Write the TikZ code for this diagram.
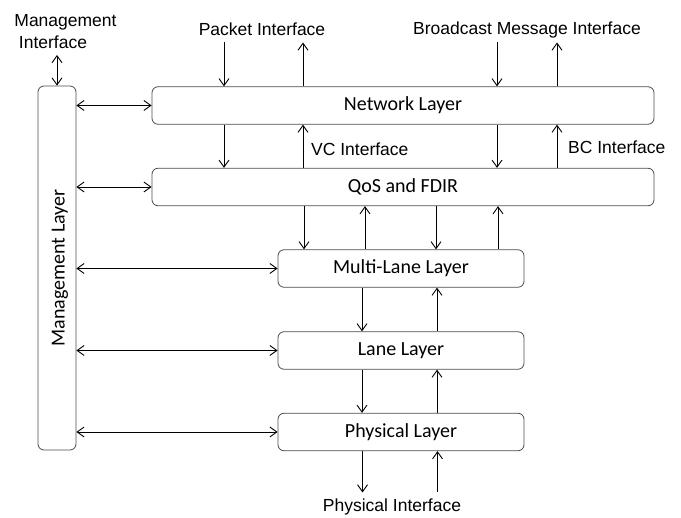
\documentclass[tikz,border=0pt]{standalone}
\usepackage{fontspec}
\setmainfont{Carlito}
\newfontfamily\arialfont{Liberation Sans}
\usetikzlibrary{arrows.meta}
\begin{document}
\begin{tikzpicture}[x=1pt,y=-1pt,
  box/.style={draw=black!70, line width=0.8pt, rounded corners=6pt, inner sep=0pt, font=\fontsize{20}{24}\selectfont},
  wide/.style={box, minimum width=502pt, minimum height=37.5pt},
  narrow/.style={box, minimum width=246pt, minimum height=37.5pt},
  lab/.style={font=\arialfont\fontsize{17.5}{21}\selectfont, inner sep=0pt},
  conn/.style={line width=0.9pt, -{Straight Barb[length=7pt,width=10pt]}},
  dconn/.style={line width=0.9pt, {Straight Barb[length=7pt,width=10pt]}-{Straight Barb[length=7pt,width=10pt]}}
]
\useasboundingbox (0,0) rectangle (681,518);

% layer boxes
\node[box, minimum width=38pt, minimum height=364pt] (mgmt) at (57,268) {};
\node[rotate=90, anchor=base, inner sep=0pt, font=\fontsize{20}{24}\selectfont] (mgmtlabel) at (64.5,268) {Management Layer};
\node[wide] (net) at (403,105.5) {Network Layer};
\node[wide] (qos) at (403,187) {QoS and FDIR};
\node[narrow] (ml) at (401,268.5) {Multi-Lane Layer};
\node[narrow] (lane) at (401,350.5) {Lane Layer};
\node[narrow] (phy) at (401,432) {Physical Layer};

% labels
\node[lab, anchor=base] (mia) at (65.5,27) {Management};
\node[lab, anchor=base] (mib) at (53,49) {Interface};
\node[lab, anchor=base] (pkt) at (262,36) {Packet Interface};
\node[lab, anchor=base] (bcm) at (527,35) {Broadcast Message Interface};
\node[lab, anchor=base west] (vc) at (311,156) {VC Interface};
\node[lab, anchor=base west] (bc) at (568,154) {BC Interface};
\node[lab, anchor=base] (phif) at (392,511.5) {Physical Interface};

% x positions
\coordinate (x1) at (224,0);
\coordinate (x2) at (303,0);
\coordinate (x3) at (497,0);
\coordinate (x4) at (557,0);
\coordinate (x5) at (304,0);
\coordinate (x6) at (365,0);
\coordinate (x7) at (436,0);
\coordinate (x8) at (498,0);
\coordinate (x9) at (362,0);
\coordinate (x10) at (437,0);

% free ends
\coordinate (mitop) at (57,55);
\coordinate (pktin) at (224,42.5);
\coordinate (pktout) at (303,42.5);
\coordinate (bcin) at (497,42.5);
\coordinate (bcout) at (557,42.5);
\coordinate (phout) at (362.5,492.5);
\coordinate (phin) at (437.5,492.5);

% management interface
\draw[dconn] (mitop) -- (mgmt.north);

% external interfaces at top
\draw[conn] (pktin) -- (net.north -| pktin);
\draw[conn] (net.north -| pktout) -- (pktout);
\draw[conn] (bcin) -- (net.north -| bcin);
\draw[conn] (net.north -| bcout) -- (bcout);

% network <-> qos
\draw[conn] (net.south -| x1) -- (qos.north -| x1);
\draw[conn] (qos.north -| x2) -- (net.south -| x2);
\draw[conn] (net.south -| x3) -- (qos.north -| x3);
\draw[conn] (qos.north -| x4) -- (net.south -| x4);

% qos <-> multi-lane
\draw[conn] (qos.south -| x5) -- (ml.north -| x5);
\draw[conn] (ml.north -| x6) -- (qos.south -| x6);
\draw[conn] (qos.south -| x7) -- (ml.north -| x7);
\draw[conn] (ml.north -| x8) -- (qos.south -| x8);

% multi-lane <-> lane
\draw[conn] (ml.south -| x9) -- (lane.north -| x9);
\draw[conn] (lane.north -| x10) -- (ml.south -| x10);

% lane <-> physical
\draw[conn] (lane.south -| x9) -- (phy.north -| x9);
\draw[conn] (phy.north -| x10) -- (lane.south -| x10);

% physical interface
\draw[conn] (phy.south -| phout) -- (phout);
\draw[conn] (phin) -- (phy.south -| phin);

% management links
\draw[dconn] (mgmt.east |- net) -- (net.west);
\draw[dconn] (mgmt.east |- qos) -- (qos.west);
\draw[dconn] (mgmt.east |- ml) -- (ml.west);
\draw[dconn] (mgmt.east |- lane) -- (lane.west);
\draw[dconn] (mgmt.east |- phy) -- (phy.west);
\end{tikzpicture}
\end{document}
